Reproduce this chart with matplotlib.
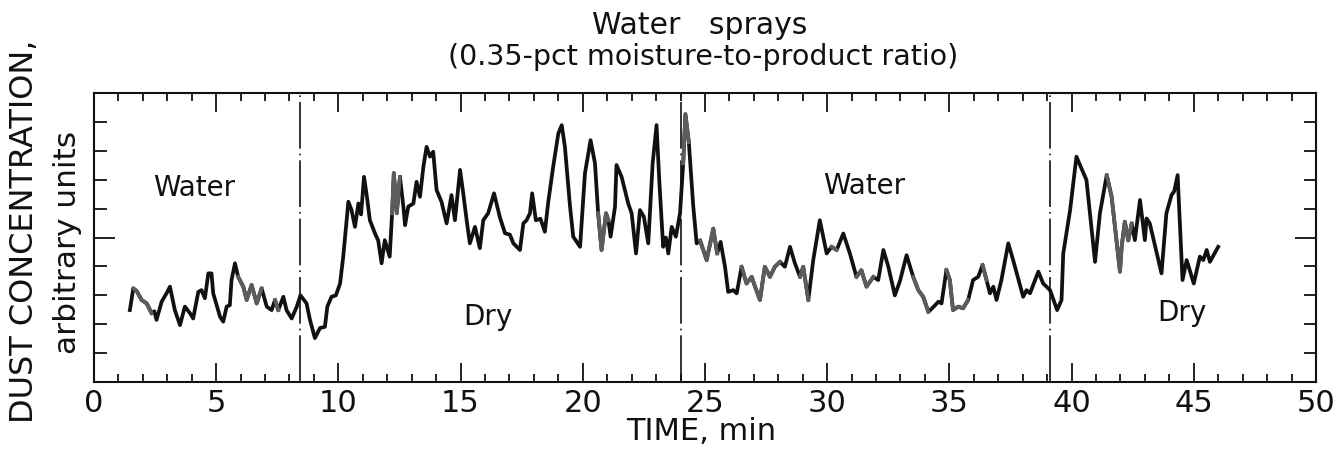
import matplotlib.pyplot as plt
from matplotlib.ticker import MultipleLocator, NullFormatter

# trace (minutes, arbitrary units)
time_min = [
    1.47, 1.61, 1.75, 1.95, 2.16, 2.36, 2.47, 2.56, 2.77, 2.97, 3.11, 3.31, 3.52, 3.72,
    3.93, 4.06, 4.27, 4.40, 4.54, 4.68, 4.81, 4.88, 5.16, 5.29, 5.43, 5.56, 5.63, 5.77,
    5.90, 6.11, 6.25, 6.45, 6.66, 6.86, 7.07, 7.27, 7.41, 7.54, 7.75, 7.88, 8.09, 8.30,
    8.45, 8.70, 8.84, 9.04, 9.25, 9.45, 9.55, 9.72, 9.90, 10.07, 10.20, 10.41, 10.54,
    10.68, 10.82, 10.93, 11.05, 11.16, 11.29, 11.50, 11.63, 11.77, 11.90, 12.10, 12.20,
    12.27, 12.39, 12.52, 12.66, 12.73, 12.86, 13.07, 13.20, 13.34, 13.48, 13.61, 13.75,
    13.88, 14.02, 14.22, 14.43, 14.63, 14.77, 14.98, 15.11, 15.25, 15.38, 15.59, 15.79,
    15.93, 16.13, 16.37, 16.61, 16.82, 17.02, 17.16, 17.43, 17.57, 17.70, 17.84, 17.93,
    18.08, 18.27, 18.45, 18.59, 18.79, 19.00, 19.14, 19.27, 19.48, 19.61, 19.89, 20.09,
    20.32, 20.50, 20.63, 20.77, 20.95, 21.05, 21.14, 21.32, 21.38, 21.59, 21.86, 22.00,
    22.18, 22.34, 22.50, 22.68, 22.86, 23.02, 23.13, 23.29, 23.40, 23.50, 23.64, 23.81,
    23.98, 24.11, 24.20, 24.34, 24.52, 24.66, 24.80, 25.07, 25.34, 25.50, 25.64, 25.82,
    25.95, 26.16, 26.30, 26.50, 26.70, 26.91, 27.05, 27.25, 27.45, 27.66, 27.86, 28.07,
    28.27, 28.48, 28.68, 28.89, 29.02, 29.23, 29.43, 29.70, 29.98, 30.18, 30.39, 30.66,
    30.93, 31.20, 31.40, 31.61, 31.89, 32.09, 32.30, 32.50, 32.77, 32.98, 33.25, 33.52,
    33.73, 33.93, 34.14, 34.35, 34.55, 34.68, 34.88, 35.02, 35.15, 35.36, 35.56, 35.77,
    35.97, 36.18, 36.36, 36.52, 36.66, 36.80, 36.93, 37.13, 37.41, 37.61, 38.02, 38.16,
    38.30, 38.64, 38.84, 39.12, 39.41, 39.59, 39.66, 39.94, 40.20, 40.40, 40.61, 40.96,
    41.16, 41.44, 41.64, 41.98, 42.05, 42.18, 42.32, 42.46, 42.59, 42.80, 43.00, 43.07,
    43.20, 43.68, 43.88, 44.09, 44.20, 44.34, 44.54, 44.71, 45.00, 45.25, 45.39, 45.53,
    45.66, 46.00,
]
dust = [
    2.49, 3.24, 3.15, 2.84, 2.72, 2.38, 2.45, 2.15, 2.78, 3.07, 3.30, 2.49, 1.97, 2.61,
    2.38, 2.20, 3.12, 3.18, 2.90, 3.76, 3.76, 3.07, 2.26, 2.09, 2.61, 2.66, 3.53, 4.11,
    3.64, 3.30, 2.84, 3.36, 2.72, 3.24, 2.61, 2.49, 2.84, 2.49, 2.95, 2.49, 2.20, 2.61,
    3.00, 2.72, 2.15, 1.52, 1.87, 1.91, 2.61, 2.95, 3.00, 3.41, 4.34, 6.24, 5.95,
    5.37, 6.18, 5.80, 7.10, 6.47, 5.60, 5.14, 4.90, 4.11, 4.91, 4.34, 5.84,
    7.23, 5.84, 7.10, 6.07, 5.43, 6.07, 6.18, 6.93, 6.41, 7.45, 8.14, 7.80,
    7.97, 6.64, 6.24, 5.49, 6.47, 5.60, 7.34, 6.53, 5.60, 4.80, 5.37, 4.63,
    5.60, 5.84, 6.53, 5.70, 5.15, 5.10, 4.80, 4.57, 5.49, 5.60, 5.84, 6.53,
    5.60, 5.65, 5.20, 6.24, 7.45, 8.60, 8.89, 8.14, 6.07, 5.03, 4.68, 7.22,
    8.37, 7.57, 5.84, 4.57, 5.84, 5.60, 5.03, 6.07, 7.51, 7.10, 6.18, 5.84,
    4.45, 5.95, 5.72, 4.80, 7.57, 8.89, 6.99, 4.68, 5.00, 4.45, 5.37, 5.03,
    5.84, 7.57, 9.27, 8.30, 6.10, 4.80, 4.90, 4.22, 5.31, 4.45, 4.85, 3.99,
    3.12, 3.18, 3.07, 3.99, 3.41, 3.64, 3.30, 2.84, 3.99, 3.64, 3.99, 4.16,
    3.99, 4.68, 4.11, 3.64, 3.99, 2.84, 4.22, 5.60, 4.45, 4.68, 4.57, 5.14,
    4.45, 3.64, 3.87, 3.30, 3.64, 3.53, 4.57, 4.00, 3.00, 3.50, 4.39, 3.64,
    3.18, 2.95, 2.43, 2.60, 2.78, 2.72, 3.88, 3.53, 2.49, 2.61, 2.55, 2.84,
    3.53, 3.64, 4.05, 3.53, 3.07, 3.30, 2.84, 3.53, 4.80, 4.22, 2.95, 3.18,
    3.07, 3.82, 3.41, 3.18, 2.49, 2.84, 4.45, 5.95, 7.80, 7.40, 6.99, 4.16,
    5.84, 7.16, 6.41, 3.82, 4.68, 5.55, 4.90, 5.49, 4.91, 6.30, 4.91, 5.66,
    5.49, 3.76, 5.84, 6.47, 6.60, 7.16, 3.53, 4.22, 3.41, 4.34, 4.22, 4.57,
    4.16, 4.68,
]

# stretches where the printed trace comes out grey instead of black
gray_spans = [(1.6, 2.4), (5.9, 6.9), (7.3, 7.7), (12.2, 12.55), (20.55, 21.1),
              (24.1, 24.5), (24.8, 25.6), (26.5, 28.1), (28.8, 29.3), (30.1, 30.6),
              (31.2, 31.9), (33.4, 34.3), (34.8, 35.9), (36.2, 36.6), (41.3, 42.5)]

# times where sprays were switched on / off
switch_times = [8.43, 24.0, 39.1]

period_names = ["Water", "Dry", "Water", "Dry"]
period_pos = [(4.1, 6.7), (16.1, 2.25), (31.5, 6.8), (44.5, 2.4)]

x_ticks = [0, 5, 10, 15, 20, 25, 30, 35, 40, 45, 50]


def main():
    fig = plt.figure(figsize=(13.42, 4.5), dpi=100)
    ax = fig.add_axes([0.070, 0.151, 0.9106, 0.6422])

    ax.plot(time_min, dust, color='#111111', lw=2.7, solid_joinstyle='round', zorder=3)
    for a, b in gray_spans:
        pts = [(t, v) for t, v in zip(time_min, dust) if a <= t <= b]
        if len(pts) > 1:
            ax.plot([p[0] for p in pts], [p[1] for p in pts], color='#5c5c5c',
                    lw=2.7, solid_joinstyle='round', zorder=4)

    for t in switch_times:
        ax.axvline(t, color='#111111', lw=1.2, ls=(0, (28, 3, 1, 3)), zorder=2)

    for name, (x, y) in zip(period_names, period_pos):
        ax.text(x, y, name, fontsize=20, ha='center', va='center', color='#111111')

    ax.set_xlim(0, 50)
    ax.set_ylim(0, 10)
    ax.set_xticks(x_ticks)
    ax.set_xticklabels([str(v) for v in x_ticks])
    ax.xaxis.set_minor_locator(MultipleLocator(1))
    ax.yaxis.set_major_locator(MultipleLocator(5))
    ax.yaxis.set_minor_locator(MultipleLocator(1))
    ax.yaxis.set_major_formatter(NullFormatter())

    ax.tick_params(axis='x', which='both', direction='in', top=True, bottom=True,
                   width=1.3, color='#111111', labelsize=22, pad=5,
                   labelcolor='#111111')
    ax.tick_params(axis='x', which='major', length=14)
    ax.tick_params(axis='x', which='minor', length=6)
    ax.tick_params(axis='y', which='both', direction='in', left=True, right=True,
                   width=1.3, color='#111111')
    ax.tick_params(axis='y', which='major', length=15)
    ax.tick_params(axis='y', which='minor', length=9)
    for sp in ax.spines.values():
        sp.set_linewidth(1.5)
        sp.set_color('#111111')

    fig.text(0.5216, 0.944, "Water   sprays", fontsize=21.5, ha='center', va='center',
             color='#111111', fontweight='medium')
    fig.text(0.524, 0.873, "(0.35-pct moisture-to-product ratio)", fontsize=20.5,
             ha='center', va='center', color='#111111')
    fig.text(0.0179, 0.4867, "DUST CONCENTRATION,", fontsize=23, rotation=90,
             ha='center', va='center', color='#111111')
    fig.text(0.050, 0.462, "arbitrary units", fontsize=22.5, rotation=90,
             ha='center', va='center', color='#111111')
    fig.text(0.5224, 0.04, "TIME, min", fontsize=22, ha='center', va='center',
             color='#111111')

    fig.savefig('out.png', dpi=100)


if __name__ == "__main__":
    main()
